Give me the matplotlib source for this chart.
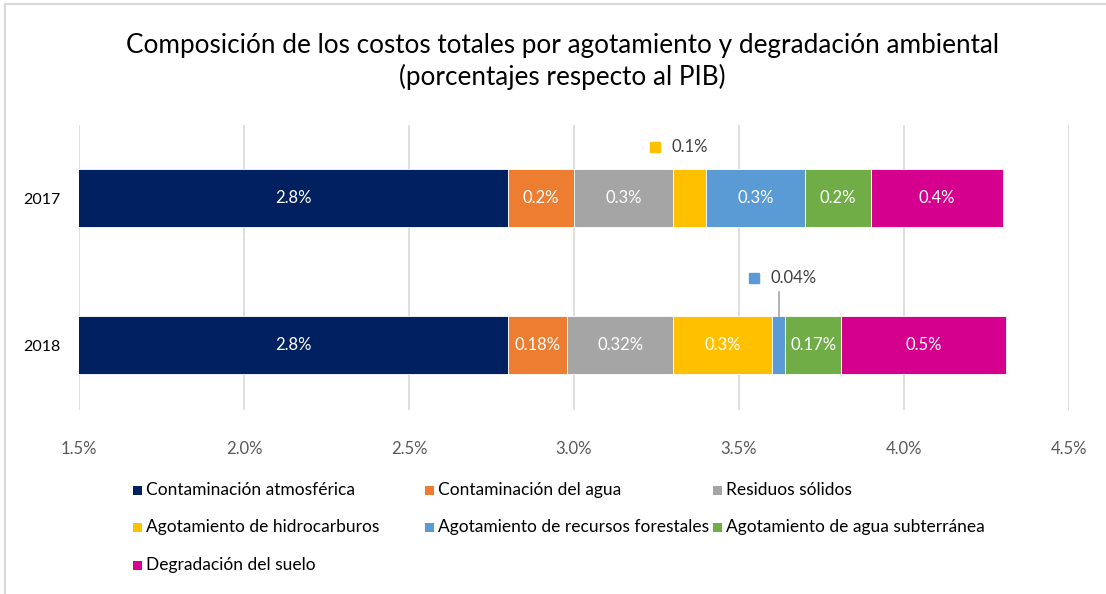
import matplotlib.pyplot as plt
import numpy as np
from matplotlib.lines import Line2D
from matplotlib.patches import Rectangle

plt.rcParams['font.family'] = ['Lato', 'DejaVu Sans']

# Data
years = ['2017', '2018']
categories = ['Contaminación atmosférica', 'Contaminación del agua', 'Residuos sólidos',
              'Agotamiento de hidrocarburos', 'Agotamiento de recursos forestales',
              'Agotamiento de agua subterránea', 'Degradación del suelo']
values_2017 = [2.8, 0.2, 0.3, 0.1, 0.3, 0.2, 0.4]
values_2018 = [2.8, 0.18, 0.32, 0.3, 0.04, 0.17, 0.5]
labels_2017 = ['2.8%', '0.2%', '0.3%', '0.1%', '0.3%', '0.2%', '0.4%']
labels_2018 = ['2.8%', '0.18%', '0.32%', '0.3%', '0.04%', '0.17%', '0.5%']
xticks = [1.5, 2.0, 2.5, 3.0, 3.5, 4.0, 4.5]

colors = ['#002060', '#ED7D31', '#A5A5A5', '#FFC000', '#5B9BD5', '#70AD47', '#D6008F']

fig = plt.figure(figsize=(11.06, 5.94), dpi=100)
W, H = 1106, 594
ax = fig.add_axes([79 / W, 1 - 410 / H, 990 / W, 285 / H])

ypos = np.arange(len(years))
all_vals = [values_2017, values_2018]
all_labels = [labels_2017, labels_2018]
bar_h = 0.4
xmin, xmax = 1.5, 4.5

# offsets for the labels of the small segments (placed above the bar)
outside = {0: dict(dx=-0.056, dy=-0.35, leader=False),
           1: dict(dx=-0.026, dy=-0.456, leader=True)}

for yi, (vals, labs) in enumerate(zip(all_vals, all_labels)):
    left = 0
    for ci, v in enumerate(vals):
        ax.barh(ypos[yi], v, left=left, height=bar_h, color=colors[ci],
                edgecolor='white', linewidth=0.6, zorder=3)
        # center of the visible part of the segment
        center = (max(left, xmin) + left + v) / 2
        if v >= 0.15:
            ax.text(center, ypos[yi], labs[ci], color='white', ha='center', va='center',
                    fontsize=12, zorder=4)
        else:
            o = outside[yi]
            tx = center + o['dx']
            ty = ypos[yi] + o['dy']
            if o['leader']:
                ax.plot([center, center], [ypos[yi] - bar_h / 2, ypos[yi] - 0.36],
                        color='#A6A6A6', lw=1.2, zorder=4, clip_on=False)
            ax.text(tx, ty, labs[ci], color='#404040', ha='left', va='center',
                    fontsize=12, zorder=4, clip_on=False)
            ax.plot([tx - 0.05], [ty], marker='s', ms=7, color=colors[ci],
                    linestyle='none', clip_on=False, zorder=4)
        left += v

ax.set_xlim(xmin, xmax)
ax.set_ylim(1.442, -0.497)
ax.set_xticks(xticks)
ax.set_xticklabels([f'{t:.1f}%' for t in xticks], color='#595959', fontsize=12)
ax.set_yticks(ypos)
ax.set_yticklabels(years, fontsize=11.5, color='#000000')
ax.tick_params(axis='both', length=0)
ax.tick_params(axis='x', pad=22)
ax.tick_params(axis='y', pad=13)
ax.grid(axis='x', color='#D9D9D9', lw=1.2, zorder=0)
for s in ax.spines.values():
    s.set_visible(False)

fig.text(562 / W, 1 - 45 / H, 'Composición de los costos totales por agotamiento y degradación ambiental',
         ha='center', va='center', fontsize=18.8)
fig.text(562 / W, 1 - 77 / H, '(porcentajes respecto al PIB)', ha='center', va='center', fontsize=18.8)

# legend laid out row by row, three columns
col_x = [133, 425, 713]
row_y = [490, 527, 565]
for i, cat in enumerate(categories):
    x = col_x[i % 3]
    y = row_y[i // 3]
    fig.add_artist(Rectangle((x / W, 1 - (y + 4.5) / H), 9 / W, 9 / H,
                             facecolor=colors[i], edgecolor='none'))
    fig.text((x + 13) / W, 1 - y / H, cat, ha='left', va='center', fontsize=12.5, color='#000000')

# light frame on top and left
fig.add_artist(Line2D([5 / W, 5 / W], [0, 1 - 4 / H], color='#D9D9D9', lw=1.5))
fig.add_artist(Line2D([5 / W, 1], [1 - 4 / H, 1 - 4 / H], color='#D9D9D9', lw=1.5))

fig.savefig('out.png', dpi=100)
